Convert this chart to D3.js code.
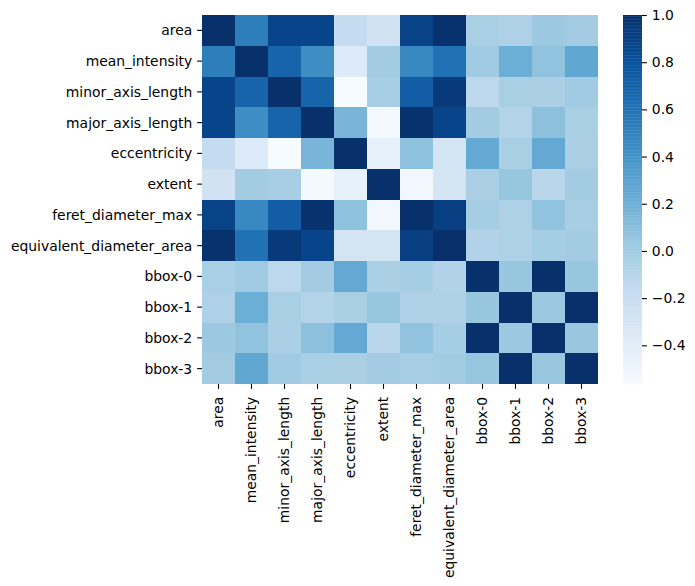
<!DOCTYPE html>
<html>
<head>
<meta charset="utf-8">
<script src="https://cdn.jsdelivr.net/npm/d3@7"></script>
<style>
  body { margin: 0; background: #fff; }
  svg { display: block; }
  text { font-family: "DejaVu Sans", sans-serif; }
</style>
</head>
<body>
<div id="chart"></div>
<script>
'use strict'

const features = ['area', 'mean_intensity', 'minor_axis_length', 'major_axis_length', 'eccentricity', 'extent',
  'feret_diameter_max', 'equivalent_diameter_area', 'bbox-0', 'bbox-1', 'bbox-2', 'bbox-3']

// one row of the correlation matrix per feature
const areaRow = [1.0, 0.53, 0.88, 0.88, -0.17, -0.26, 0.89, 0.99, -0.03, -0.06, 0.03, 0.0]
const meanIntensityRow = [0.53, 1.0, 0.69, 0.44, -0.36, 0.0, 0.47, 0.61, 0.01, 0.22, 0.07, 0.27]
const minorAxisRow = [0.88, 0.69, 1.0, 0.69, -0.56, -0.02, 0.73, 0.94, -0.13, -0.03, -0.04, 0.01]
const majorAxisRow = [0.88, 0.44, 0.69, 1.0, 0.17, -0.54, 0.99, 0.88, 0.0, -0.08, 0.09, -0.03]
const eccentricityRow = [-0.17, -0.36, -0.56, 0.17, 1.0, -0.44, 0.08, -0.28, 0.25, -0.03, 0.25, -0.04]
const extentRow = [-0.26, 0.0, -0.02, -0.54, -0.44, 1.0, -0.52, -0.28, -0.04, 0.05, -0.11, 0.0]
const feretRow = [0.89, 0.47, 0.73, 0.99, 0.08, -0.52, 1.0, 0.91, -0.01, -0.06, 0.07, -0.02]
const equivalentRow = [0.99, 0.61, 0.94, 0.88, -0.28, -0.28, 0.91, 1.0, -0.07, -0.06, -0.01, 0.0]
const bbox0Row = [-0.03, 0.01, -0.13, 0.0, 0.25, -0.04, -0.01, -0.07, 1.0, 0.05, 1.0, 0.05]
const bbox1Row = [-0.06, 0.22, -0.03, -0.08, -0.03, 0.05, -0.06, -0.06, 0.05, 1.0, 0.03, 1.0]
const bbox2Row = [0.03, 0.07, -0.04, 0.09, 0.25, -0.11, 0.07, -0.01, 1.0, 0.03, 1.0, 0.04]
const bbox3Row = [0.0, 0.27, 0.01, -0.03, -0.04, 0.0, -0.02, 0.0, 0.05, 1.0, 0.04, 1.0]
const matrix = [areaRow, meanIntensityRow, minorAxisRow, majorAxisRow, eccentricityRow, extentRow,
  feretRow, equivalentRow, bbox0Row, bbox1Row, bbox2Row, bbox3Row]

const colorTicks = [-0.4, -0.2, 0.0, 0.2, 0.4, 0.6, 0.8, 1.0]
const blues = ['#f7fbff', '#deebf7', '#c6dbef', '#9ecae1', '#6baed6', '#4292c6', '#2171b5', '#08519c', '#08306b']
const vmin = -0.564
const vmax = 1.0

const width = 695
const height = 586
const plotLeft = 202
const plotRight = 598
const plotTop = 15
const plotBottom = 384
const barLeft = 623
const barRight = 642
const fontSize = 13.9
const tickLen = 4.9
const tickPad = 4.9

const svg = d3.select('#chart').append('svg')
  .attr('width', width)
  .attr('height', height)

// same piecewise linear ramp as matplotlib's Blues
const color = d3.scaleLinear()
  .domain(blues.map((c, i) => vmin + (vmax - vmin) * i / (blues.length - 1)))
  .range(blues)
  .interpolate(d3.interpolateRgb)

const x = d3.scaleBand().domain(features).range([plotLeft, plotRight])
const y = d3.scaleBand().domain(features).range([plotTop, plotBottom])

matrix.forEach((row, i) => {
  svg.append('g')
    .selectAll('rect')
    .data(row)
    .join('rect')
    .attr('x', (d, j) => x(features[j]))
    .attr('y', y(features[i]))
    .attr('width', x.bandwidth())
    .attr('height', y.bandwidth())
    .attr('shape-rendering', 'crispEdges')
    .attr('fill', d => color(d))
})

const styleAxis = function (g) {
  g.select('.domain').remove()
  g.selectAll('.tick line').attr('stroke', '#000').attr('stroke-width', 1.1)
  g.selectAll('.tick text').attr('fill', '#000').style('font-size', fontSize + 'px')
    .style('font-family', '"DejaVu Sans", sans-serif')
}

svg.append('g')
  .attr('transform', `translate(${plotLeft},0)`)
  .call(d3.axisLeft(y).tickSize(tickLen).tickPadding(tickPad))
  .call(styleAxis)
  .selectAll('.tick text')
  .attr('dy', '0.36em')

svg.append('g')
  .attr('transform', `translate(0,${plotBottom})`)
  .call(d3.axisBottom(x).tickSize(tickLen).tickPadding(tickPad))
  .call(styleAxis)
  .selectAll('.tick text')
  .attr('transform', 'rotate(-90)')
  .attr('text-anchor', 'end')
  .attr('dy', '0.29em')
  .attr('x', -(tickLen + tickPad + 3))
  .attr('y', 0)

// colorbar
const barScale = d3.scaleLinear().domain([vmin, vmax]).range([plotBottom, plotTop])
const levels = d3.range(256).map(i => vmin + (vmax - vmin) * (i + 0.5) / 256)
const levelStep = (vmax - vmin) / 256

svg.append('g')
  .selectAll('rect')
  .data(levels)
  .join('rect')
  .attr('x', barLeft)
  .attr('width', barRight - barLeft)
  .attr('y', d => barScale(d + levelStep / 2))
  .attr('height', d => barScale(d - levelStep / 2) - barScale(d + levelStep / 2) + 0.4)
  .attr('fill', d => color(d))

svg.append('g')
  .attr('transform', `translate(${barRight},0)`)
  .call(d3.axisRight(barScale).tickValues(colorTicks).tickSize(tickLen).tickPadding(tickPad)
    .tickFormat(d => d3.format('.1f')(d).replace('-', '\u2212')))
  .call(styleAxis)
</script>
</body>
</html>
